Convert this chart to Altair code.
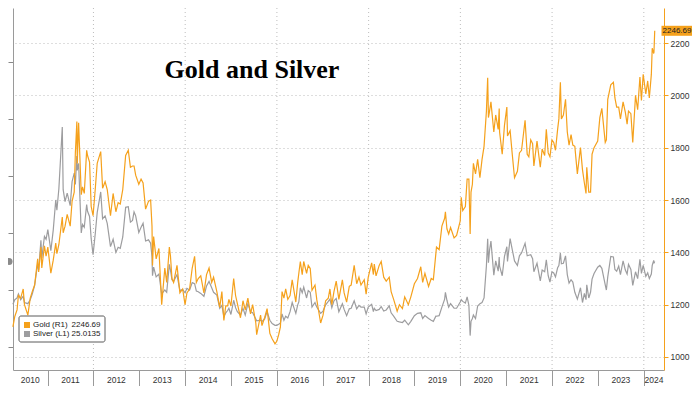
import altair as alt
import pandas as pd

# ---------------- data ----------------
dates = [
    "2010-03-31", "2010-04-15", "2010-05-03", "2010-05-14", "2010-06-01", "2010-06-21", "2010-07-01", "2010-07-28",
    "2010-08-16", "2010-09-01", "2010-09-20", "2010-10-14", "2010-10-22", "2010-11-09", "2010-11-16", "2010-12-07",
    "2010-12-20", "2011-01-03", "2011-01-27", "2011-02-15", "2011-03-07", "2011-03-16", "2011-04-01", "2011-04-28",
    "2011-05-05", "2011-05-20", "2011-06-06", "2011-06-30", "2011-07-15", "2011-08-01", "2011-08-10", "2011-08-22",
    "2011-08-25", "2011-09-05", "2011-09-26", "2011-10-06", "2011-10-20", "2011-11-08", "2011-11-15", "2011-12-01",
    "2011-12-14", "2011-12-29", "2012-01-16", "2012-01-31", "2012-02-28", "2012-03-14", "2012-04-03", "2012-04-20",
    "2012-05-16", "2012-06-06", "2012-06-28", "2012-07-16", "2012-08-02", "2012-08-22", "2012-09-14", "2012-10-05",
    "2012-10-22", "2012-11-08", "2012-11-20", "2012-12-03", "2012-12-28", "2013-01-15", "2013-01-31", "2013-02-20",
    "2013-03-15", "2013-04-01", "2013-04-12", "2013-04-16", "2013-04-25", "2013-05-15", "2013-06-06", "2013-06-28",
    "2013-07-23", "2013-08-07", "2013-08-28", "2013-09-06", "2013-09-18", "2013-10-01", "2013-10-28", "2013-11-20",
    "2013-12-12", "2013-12-31", "2014-01-15", "2014-02-05", "2014-02-26", "2014-03-17", "2014-03-31", "2014-04-15",
    "2014-05-05", "2014-05-30", "2014-06-20", "2014-07-10", "2014-07-31", "2014-08-15", "2014-09-10", "2014-10-03",
    "2014-10-20", "2014-11-05", "2014-11-20", "2014-12-05", "2014-12-15", "2014-12-31", "2015-01-22", "2015-02-06",
    "2015-02-20", "2015-03-17", "2015-04-06", "2015-04-24", "2015-05-15", "2015-06-05", "2015-06-22", "2015-07-17",
    "2015-07-24", "2015-08-24", "2015-09-04", "2015-09-25", "2015-10-15", "2015-11-06", "2015-11-24", "2015-12-17",
    "2015-12-31", "2016-01-15", "2016-01-29", "2016-02-11", "2016-02-26", "2016-03-11", "2016-03-28", "2016-04-15",
    "2016-05-02", "2016-05-31", "2016-06-15", "2016-06-24", "2016-07-06", "2016-07-21", "2016-08-02", "2016-08-25",
    "2016-09-07", "2016-09-23", "2016-10-07", "2016-10-31", "2016-11-14", "2016-12-01", "2016-12-15", "2017-01-03",
    "2017-01-24", "2017-02-14", "2017-02-27", "2017-03-14", "2017-03-31", "2017-04-18", "2017-05-09", "2017-06-06",
    "2017-06-20", "2017-07-10", "2017-07-31", "2017-08-15", "2017-09-08", "2017-09-28", "2017-10-16", "2017-11-01",
    "2017-11-27", "2017-12-12", "2017-12-29", "2018-01-25", "2018-02-08", "2018-02-15", "2018-03-01", "2018-03-26",
    "2018-04-11", "2018-05-01", "2018-05-21", "2018-06-14", "2018-06-29", "2018-07-19", "2018-08-16", "2018-09-03",
    "2018-09-27", "2018-10-15", "2018-11-13", "2018-12-03", "2018-12-31", "2019-01-25", "2019-02-20", "2019-03-07",
    "2019-03-25", "2019-04-23", "2019-05-14", "2019-05-31", "2019-06-20", "2019-06-25", "2019-07-16", "2019-08-07",
    "2019-08-29", "2019-09-04", "2019-09-16", "2019-09-30", "2019-10-15", "2019-11-12", "2019-12-02", "2019-12-31",
    "2020-01-08", "2020-01-20", "2020-02-10", "2020-02-24", "2020-03-09", "2020-03-19", "2020-03-26", "2020-04-06",
    "2020-04-14", "2020-05-01", "2020-05-18", "2020-06-05", "2020-06-22", "2020-07-08", "2020-07-27", "2020-08-06",
    "2020-08-12", "2020-08-21", "2020-09-01", "2020-09-24", "2020-10-09", "2020-10-29", "2020-11-06", "2020-11-09",
    "2020-11-30", "2020-12-18", "2021-01-06", "2021-01-11", "2021-02-01", "2021-02-18", "2021-03-08", "2021-03-31",
    "2021-04-16", "2021-05-03", "2021-05-31", "2021-06-17", "2021-06-30", "2021-07-15", "2021-07-30", "2021-08-09",
    "2021-09-03", "2021-09-29", "2021-10-14", "2021-11-03", "2021-11-16", "2021-12-01", "2021-12-15", "2021-12-31",
    "2022-01-14", "2022-01-28", "2022-02-14", "2022-02-24", "2022-03-08", "2022-03-16", "2022-04-01", "2022-04-18",
    "2022-05-02", "2022-05-16", "2022-06-01", "2022-06-15", "2022-07-01", "2022-07-21", "2022-08-15", "2022-08-31",
    "2022-09-15", "2022-09-28", "2022-10-04", "2022-10-20", "2022-11-03", "2022-11-15", "2022-12-01", "2022-12-30",
    "2023-01-16", "2023-02-01", "2023-02-28", "2023-03-09", "2023-03-20", "2023-04-13", "2023-05-04", "2023-05-16",
    "2023-05-30", "2023-06-15", "2023-06-29", "2023-07-20", "2023-08-07", "2023-08-21", "2023-09-01", "2023-09-20",
    "2023-10-05", "2023-10-27", "2023-11-13", "2023-12-01", "2023-12-13", "2023-12-27", "2024-01-17", "2024-02-01",
    "2024-02-14", "2024-03-01", "2024-03-08", "2024-03-20", "2024-03-22", "2024-03-28",
]

gold = [
    1115, 1155, 1180, 1235, 1225, 1260, 1200, 1160,
    1225, 1250, 1275, 1375, 1325, 1420, 1340, 1425,
    1385, 1420, 1320, 1370, 1435, 1395, 1430, 1535,
    1475, 1500, 1545, 1500, 1595, 1630, 1780, 1900,
    1740, 1895, 1620, 1650, 1625, 1790, 1770, 1745,
    1575, 1540, 1645, 1740, 1785, 1645, 1670, 1640,
    1540, 1625, 1555, 1590, 1585, 1640, 1770, 1790,
    1725, 1730, 1730, 1695, 1660, 1680, 1665, 1565,
    1595, 1600, 1500, 1350, 1460, 1375, 1415, 1200,
    1340, 1285, 1420, 1385, 1300, 1285, 1350, 1245,
    1260, 1200, 1245, 1260, 1340, 1385, 1285, 1300,
    1310, 1245, 1315, 1340, 1285, 1305, 1250, 1190,
    1250, 1140, 1195, 1195, 1220, 1195, 1300, 1235,
    1205, 1150, 1215, 1180, 1225, 1165, 1200, 1130,
    1085, 1160, 1120, 1150, 1185, 1090, 1070, 1050,
    1060, 1085, 1115, 1250, 1225, 1260, 1220, 1235,
    1295, 1210, 1285, 1320, 1365, 1315, 1365, 1320,
    1350, 1338, 1255, 1275, 1220, 1170, 1130, 1160,
    1215, 1225, 1260, 1200, 1250, 1290, 1220, 1295,
    1245, 1210, 1270, 1275, 1350, 1280, 1305, 1275,
    1295, 1240, 1305, 1360, 1315, 1355, 1310, 1350,
    1365, 1305, 1290, 1305, 1250, 1220, 1175, 1200,
    1185, 1230, 1200, 1230, 1280, 1300, 1345, 1285,
    1320, 1270, 1300, 1295, 1395, 1420, 1410, 1500,
    1530, 1555, 1490, 1470, 1495, 1455, 1465, 1520,
    1610, 1560, 1575, 1680, 1680, 1470, 1630, 1660,
    1740, 1700, 1755, 1685, 1755, 1805, 1940, 2067,
    1915, 1940, 1975, 1860, 1925, 1870, 1950, 1860,
    1775, 1885, 1955, 1845, 1865, 1775, 1685, 1710,
    1780, 1790, 1905, 1775, 1765, 1830, 1815, 1730,
    1825, 1725, 1795, 1770, 1870, 1780, 1765, 1830,
    1820, 1790, 1870, 1910, 2050, 1910, 1925, 1985,
    1860, 1810, 1850, 1810, 1805, 1700, 1800, 1715,
    1665, 1625, 1725, 1630, 1630, 1775, 1800, 1825,
    1915, 1950, 1820, 1830, 1985, 2040, 2050, 1990,
    1955, 1955, 1910, 1975, 1935, 1890, 1940, 1930,
    1820, 2000, 1945, 2070, 1980, 2080, 2005, 2055,
    1990, 2080, 2180, 2160, 2165, 2246.69,
]

silver = [
    17.5, 18.3, 18.6, 19.3, 18.3, 18.9, 17.8, 17.6,
    18.3, 19.3, 20.8, 24.6, 23.5, 28.7, 25.6, 29.4,
    28.9, 30.6, 26.9, 30.5, 35.8, 34.0, 37.8, 48.6,
    37.6, 35.5, 37.0, 34.8, 39.0, 40.5, 38.5, 43.5,
    41.0, 42.2, 30.0, 31.5, 31.0, 35.0, 33.8, 32.9,
    29.0, 26.2, 30.0, 33.6, 37.2, 32.5, 33.0, 31.7,
    27.6, 28.9, 26.6, 27.5, 27.3, 29.3, 34.5, 34.6,
    31.9, 32.2, 33.7, 33.0, 30.1, 31.0, 31.7, 28.6,
    28.8, 28.2, 25.8, 22.5, 24.0, 22.3, 22.8, 19.3,
    20.0, 19.6, 24.5, 23.5, 21.8, 21.5, 22.7, 19.9,
    20.1, 19.5, 20.3, 20.0, 21.3, 21.1, 19.8, 19.7,
    19.4, 18.9, 20.7, 21.5, 20.4, 19.6, 19.1, 16.8,
    17.3, 15.3, 16.0, 16.4, 16.8, 15.7, 18.2, 16.9,
    16.2, 15.6, 16.8, 15.6, 17.6, 16.2, 16.0, 14.9,
    14.6, 14.7, 14.5, 14.9, 16.2, 14.7, 14.1, 13.8,
    13.8, 14.0, 14.2, 15.8, 14.7, 15.4, 15.1, 16.2,
    17.8, 15.9, 17.4, 17.9, 20.4, 19.5, 20.5, 18.6,
    19.9, 19.6, 17.0, 17.8, 17.0, 16.4, 15.9, 16.3,
    17.4, 18.0, 18.4, 16.9, 18.1, 18.5, 16.2, 17.6,
    16.6, 15.5, 16.7, 16.8, 18.1, 16.7, 17.3, 17.0,
    17.0, 15.8, 17.0, 17.5, 16.2, 16.8, 16.4, 16.6,
    17.1, 16.3, 16.5, 17.2, 16.0, 15.4, 14.5, 14.4,
    14.3, 14.7, 13.9, 14.5, 15.5, 15.9, 16.0, 15.0,
    15.5, 15.0, 14.7, 14.5, 15.4, 15.4, 15.5, 17.0,
    18.4, 19.6, 18.2, 17.0, 17.6, 16.8, 16.8, 17.9,
    18.3, 18.0, 17.7, 18.8, 17.3, 12.0, 14.5, 15.0,
    15.6, 15.0, 17.2, 17.6, 17.8, 18.6, 24.3, 29.0,
    24.8, 27.0, 28.6, 22.6, 25.1, 23.3, 25.8, 24.2,
    22.5, 25.9, 27.6, 25.0, 29.0, 27.1, 25.1, 24.3,
    26.0, 26.5, 28.2, 26.0, 26.1, 26.2, 25.5, 23.2,
    24.7, 21.6, 23.5, 23.2, 25.3, 22.5, 21.4, 23.2,
    23.0, 22.3, 23.9, 24.3, 26.5, 24.6, 24.7, 26.0,
    22.7, 21.2, 21.8, 21.4, 19.6, 18.4, 20.4, 17.8,
    19.4, 18.3, 20.9, 18.6, 19.6, 21.9, 22.9, 24.0,
    24.3, 23.8, 20.9, 20.0, 22.3, 25.9, 25.8, 23.6,
    23.3, 24.2, 22.7, 25.1, 23.5, 22.8, 24.5, 23.6,
    20.8, 23.2, 22.0, 25.4, 22.9, 24.3, 22.4, 23.0,
    22.0, 22.8, 24.3, 25.2, 24.7, 25.0135,
]

series_names = ["Gold (R1)", "Silver (L1)"]
series_last = ["2246.69", "25.0135"]
gold_ticks = [1000, 1200, 1400, 1600, 1800, 2000, 2200]
silver_ticks = [10, 20, 30, 40, 50, 60]
year_ticks = list(range(2011, 2025))
grid_years = [2012, 2014, 2016, 2018, 2020, 2022, 2024]
year_labels = [str(y) for y in range(2010, 2025)]
title_text = "Gold and Silver"

# ---------------- styling / layout ----------------
GOLD_C = "#f5a11c"
SILVER_C = "#9d9d9f"
GRID_C = "#bdbdbd"
AXIS_C = "#9a9a9a"
FONT = "Liberation Sans"
W, H = 651, 362
PAD = {"left": 5, "top": 0, "right": 28, "bottom": 16}

X_DOMAIN = [2010.246, 2024.44]
GOLD_DOMAIN = [950.3, 2333.8]
SILVER_DOMAIN = [5.965, 69.47]

d = pd.to_datetime(pd.Series(dates))
frac = d.dt.year + (d.dt.dayofyear - 1) / (365 + d.dt.is_leap_year.astype(int))
df = pd.DataFrame({"t": frac, "gold": gold, "silver": silver})

x_scale = alt.Scale(domain=X_DOMAIN, nice=False, zero=False)
x_axis = alt.Axis(values=year_ticks, labels=False, tickSize=16, tickColor=AXIS_C,
                  domainColor=AXIS_C, grid=False, title=None)


def X():
    return alt.X("t:Q", scale=x_scale, axis=x_axis)


gold_scale = alt.Scale(domain=GOLD_DOMAIN, nice=False, zero=False)
silver_scale = alt.Scale(domain=SILVER_DOMAIN, nice=False, zero=False)

vgrid = alt.Chart(pd.DataFrame({"t": grid_years})).mark_rule(
    color=GRID_C, strokeDash=[1, 3], strokeWidth=1
).encode(x=X())

silver_line = alt.Chart(df).mark_line(color=SILVER_C, strokeWidth=1.2).encode(
    x=X(),
    y=alt.Y("silver:Q", scale=silver_scale,
            axis=alt.Axis(orient="left", values=silver_ticks, labels=False, tickSize=5,
                          tickColor="#888888", domainColor=AXIS_C, grid=False, title=None)),
)

gold_line = alt.Chart(df).mark_line(color=GOLD_C, strokeWidth=1.2).encode(
    x=X(),
    y=alt.Y("gold:Q", scale=gold_scale,
            axis=alt.Axis(orient="right", values=gold_ticks, format="d", tickSize=4,
                          tickColor=GOLD_C, domainColor=GOLD_C, labelColor="#333333",
                          labelFont=FONT, labelFontSize=8.5, labelPadding=2, grid=True,
                          gridColor=GRID_C, gridDash=[1, 3], title=None)),
)

last = pd.DataFrame({"gold": [gold[-1]], "silver": [silver[-1]]})

silver_marker = alt.Chart(last).mark_point(filled=True, color="#8a8a8a", size=50, opacity=1).encode(
    x=alt.value(-4),
    y=alt.Y("silver:Q", scale=silver_scale, axis=None),
)

gold_tag = alt.Chart(last).mark_point(
    shape="M-1,-0.3226H1V0.3226H-1Z", size=961, filled=True, color=GOLD_C, opacity=1
).encode(x=alt.value(W + 13), y=alt.Y("gold:Q", scale=gold_scale, axis=None))

gold_tag_text = alt.Chart(last).mark_text(
    font=FONT, fontSize=8, color="#222222", align="center", baseline="middle"
).encode(
    x=alt.value(W + 13),
    y=alt.Y("gold:Q", scale=gold_scale, axis=None),
    text=alt.Text("gold:Q", format=".2f"),
)

# year labels centred in the visible part of each year
label_pos = []
for y in range(2010, 2025):
    lo = max(y, X_DOMAIN[0])
    hi = min(y + 1, X_DOMAIN[1])
    label_pos.append((lo + hi) / 2)
years_df = pd.DataFrame({"t": label_pos, "label": year_labels})
year_text = alt.Chart(years_df).mark_text(
    font=FONT, fontSize=8.5, color="#333333", align="center", baseline="middle"
).encode(x=X(), y=alt.value(H + 10), text="label:N")

title = alt.Chart(pd.DataFrame({"s": [title_text]})).mark_text(
    font="Liberation Serif", fontSize=26, fontWeight="bold", color="#000000",
    align="center", baseline="alphabetic"
).encode(x=alt.value(239), y=alt.value(70), text="s:N")

# legend box
leg_layers = [
    alt.Chart(pd.DataFrame({"a": [0]})).mark_rect(
        fill="white", stroke="#5a5a5a", strokeWidth=1, cornerRadius=2
    ).encode(x=alt.value(6), x2=alt.value(92), y=alt.value(308), y2=alt.value(334))
]
for i, (nm, val, col) in enumerate(zip(series_names, series_last, [GOLD_C, SILVER_C])):
    yy = 317 + 9 * i
    one = pd.DataFrame({"name": [nm], "val": [val]})
    leg_layers.append(alt.Chart(one).mark_square(size=36, color=col, opacity=1, filled=True)
                      .encode(x=alt.value(14), y=alt.value(yy)))
    leg_layers.append(alt.Chart(one).mark_text(font=FONT, fontSize=8, color="#222222",
                                               align="left", baseline="middle")
                      .encode(x=alt.value(20), y=alt.value(yy), text="name:N"))
    leg_layers.append(alt.Chart(one).mark_text(font=FONT, fontSize=8, color="#222222",
                                               align="right", baseline="middle")
                      .encode(x=alt.value(87.5), y=alt.value(yy), text="val:N"))

chart = alt.layer(
    vgrid, silver_line, gold_line, silver_marker, gold_tag, gold_tag_text,
    year_text, title, *leg_layers
).resolve_scale(y="independent").properties(
    width=W, height=H,
    padding=PAD,
    autosize=alt.AutoSizeParams(type="none"),
    background="white",
).configure_view(stroke=None)

chart.save("out.html", embed_options={"renderer": "svg", "actions": False})
